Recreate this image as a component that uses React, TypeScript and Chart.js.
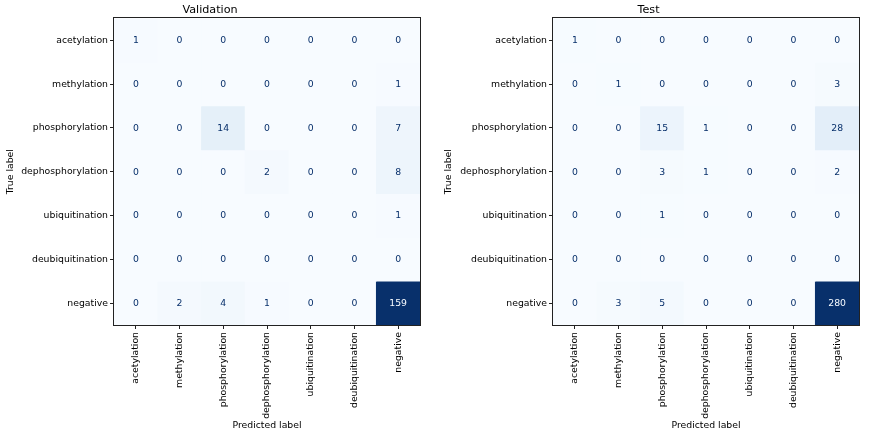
import React, { useEffect, useRef } from 'react';
import { Chart, registerables } from 'chart.js';

Chart.register(...registerables);

const CLASSES = [
  'acetylation',
  'methylation',
  'phosphorylation',
  'dephosphorylation',
  'ubiquitination',
  'deubiquitination',
  'negative',
];

// rows = true label, columns = predicted label
const VALIDATION_MATRIX = [
  [1, 0, 0, 0, 0, 0, 0],
  [0, 0, 0, 0, 0, 0, 1],
  [0, 0, 14, 0, 0, 0, 7],
  [0, 0, 0, 2, 0, 0, 8],
  [0, 0, 0, 0, 0, 0, 1],
  [0, 0, 0, 0, 0, 0, 0],
  [0, 2, 4, 1, 0, 0, 159],
];

const TEST_MATRIX = [
  [1, 0, 0, 0, 0, 0, 0],
  [0, 1, 0, 0, 0, 0, 3],
  [0, 0, 15, 1, 0, 0, 28],
  [0, 0, 3, 1, 0, 0, 2],
  [0, 0, 1, 0, 0, 0, 0],
  [0, 0, 0, 0, 0, 0, 0],
  [0, 3, 5, 0, 0, 0, 280],
];

const PANEL_TITLES = ['Validation', 'Test'];
const X_TITLE = 'Predicted label';
const Y_TITLE = 'True label';

const BLUES = ['#f7fbff', '#deebf7', '#c6dbef', '#9ecae1', '#6baed6', '#4292c6', '#2171b5', '#08519c', '#08306b'];
const FONT = 'DejaVu Sans';

function hexToRgb(h: string) {
  return [parseInt(h.slice(1, 3), 16), parseInt(h.slice(3, 5), 16), parseInt(h.slice(5, 7), 16)];
}

function blues(t: number) {
  const x = Math.max(0, Math.min(1, t)) * (BLUES.length - 1);
  const i = Math.min(BLUES.length - 2, Math.floor(x));
  const f = x - i;
  const a = hexToRgb(BLUES[i]);
  const b = hexToRgb(BLUES[i + 1]);
  const c = a.map((v, k) => Math.round(v + (b[k] - v) * f));
  return `rgb(${c[0]},${c[1]},${c[2]})`;
}

const cellTextPlugin = {
  id: 'cellText',
  afterDatasetsDraw(chart: any) {
    const { ctx } = chart;
    const opts = chart.options.plugins.cellText;
    const matrix: number[][] = opts.matrix;
    const flat = matrix.flat();
    const max = Math.max(...flat);
    const min = Math.min(...flat);
    const thresh = (max + min) / 2;
    ctx.save();
    ctx.font = `9.3px "${FONT}"`;
    ctx.textAlign = 'center';
    ctx.textBaseline = 'middle';
    chart.data.datasets.forEach((ds: any, r: number) => {
      const meta = chart.getDatasetMeta(r);
      meta.data.forEach((el: any, c: number) => {
        const { x, y, base } = el.getProps(['x', 'y', 'base'], true);
        const v = matrix[r][c];
        ctx.fillStyle = v < thresh ? BLUES[BLUES.length - 1] : BLUES[0];
        ctx.fillText(String(v), x, (y + base) / 2 + 0.5);
      });
    });
    // frame
    const a = chart.chartArea;
    ctx.strokeStyle = '#222';
    ctx.lineWidth = 1;
    ctx.strokeRect(Math.round(a.left) - 0.5, Math.round(a.top) - 0.5, Math.round(a.right - a.left) + 1, Math.round(a.bottom - a.top) + 1);
    ctx.restore();
  },
};

function Panel({ title, matrix, left, yWidth, rightPad }: { title: string; matrix: number[][]; left: number; yWidth: number; rightPad: number }) {
  const ref = useRef<HTMLCanvasElement | null>(null);
  useEffect(() => {
    if (!ref.current) return;
    const max = Math.max(...matrix.flat());
    const datasets = matrix.map((row, r) => ({
      label: CLASSES[r],
      data: row.map(() => [r - 0.5, r + 0.5]),
      backgroundColor: row.map((v) => blues(v / max)),
      borderWidth: 0,
      barPercentage: 1,
      categoryPercentage: 1,
      grouped: false,
    }));
    const chart = new Chart(ref.current, {
      type: 'bar',
      data: { labels: CLASSES, datasets: datasets as any },
      plugins: [cellTextPlugin as any],
      options: {
        animation: false,
        responsive: false,
        layout: { padding: { left: 0, right: rightPad, top: 0, bottom: 0 } },
        plugins: {
          legend: { display: false },
          tooltip: { enabled: false },
          title: {
            display: true,
            text: title,
            color: '#000',
            font: { family: FONT, size: 11.2, weight: 'normal' },
            padding: { top: 3, bottom: 2 },
          },
          cellText: { matrix },
        } as any,
        scales: {
          x: {
            type: 'category',
            offset: true,
            grid: { display: true, drawOnChartArea: false, offset: false, tickLength: 4, color: '#222' },
            border: { display: false },
            ticks: {
              autoSkip: false,
              minRotation: 90,
              maxRotation: 90,
              padding: 3,
              color: '#000',
              font: { family: FONT, size: 9.3 },
            },
            title: {
              display: true,
              text: X_TITLE,
              color: '#000',
              font: { family: FONT, size: 9.3 },
              padding: { top: 0, bottom: 4.4 },
            },
            afterFit: (s: any) => {
              s.height = 111;
            },
          },
          y: {
            type: 'linear',
            min: -0.5,
            max: 6.5,
            reverse: true,
            grid: { display: true, drawOnChartArea: false, tickLength: 4, color: '#222' },
            border: { display: false },
            afterBuildTicks: (s: any) => {
              s.ticks = CLASSES.map((_, i) => ({ value: i }));
            },
            ticks: {
              padding: 2,
              color: '#000',
              font: { family: FONT, size: 9.3 },
              callback: (v: any) => CLASSES[v as number] ?? '',
            },
            title: {
              display: true,
              text: Y_TITLE,
              color: '#000',
              font: { family: FONT, size: 9.3 },
              padding: { top: 5.4, bottom: 0 },
            },
            afterFit: (s: any) => {
              s.width = yWidth;
            },
          },
        },
      } as any,
    });
    return () => chart.destroy();
  }, [title, matrix, yWidth, rightPad]);
  return (
    <canvas
      ref={ref}
      width={438}
      height={436}
      style={{ position: 'absolute', left, top: 0, width: 438, height: 436 }}
    />
  );
}

export default function App() {
  return (
    <div style={{ position: 'absolute', left: 0, top: 0, width: 876, height: 436, background: '#fff', overflow: 'hidden' }}>
      <Panel title={PANEL_TITLES[0]} matrix={VALIDATION_MATRIX} left={0} yWidth={114} rightPad={18} />
      <Panel title={PANEL_TITLES[1]} matrix={TEST_MATRIX} left={438} yWidth={115} rightPad={17} />
    </div>
  );
}
